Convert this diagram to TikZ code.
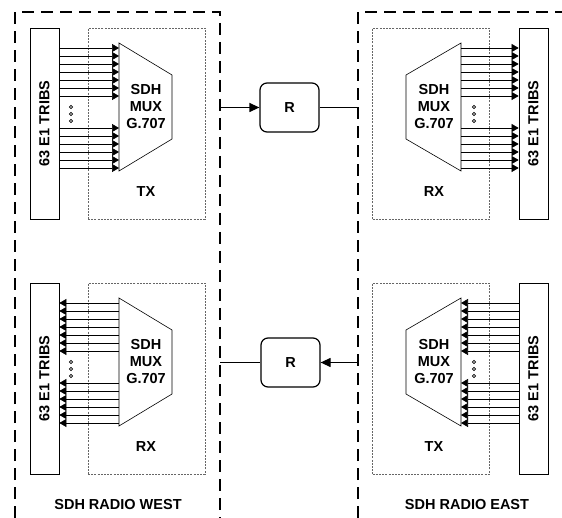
\documentclass[tikz,border=0pt]{standalone}
\usepackage{fontspec}
\setmainfont{Liberation Sans}
\usetikzlibrary{arrows.meta,positioning}

\begin{document}
\begin{tikzpicture}[x=1pt, y=-1pt, >=Stealth,
   font=\bfseries\fontsize{14.5}{17}\selectfont,
   site/.style={line width=1.5pt, dash pattern=on 12pt off 7pt},
   tribs/.style={draw, line width=0.7pt, minimum width=29pt, minimum height=191pt, inner sep=0pt},
   unit/.style={draw=black!60, line width=0.7pt, dash pattern=on 2pt off 1.2pt,
                minimum width=117pt, minimum height=191pt, inner sep=0pt},
   radio/.style={draw, rounded corners=7pt, line width=1.2pt, minimum width=59pt, minimum height=49pt},
   link/.style={line width=1.2pt},
   linkhead/.style={link, -{Triangle[length=10pt,width=9pt]}},
   fanr/.style={line width=0.6pt, -{Triangle[length=7pt,width=8pt]}},
   fanl/.style={line width=0.6pt, {Triangle[length=7pt,width=8pt]}-},
   dot/.style={draw, circle, inner sep=0pt, minimum size=3.2pt, line width=0.6pt}]
  \useasboundingbox (0,0) rectangle (562,518);

  % radio sites
  \draw[site] (15,518) -- (15,12) -- (220,12) -- (220,518);
  \draw[site] (358,518) -- (358,12) -- (562,12);

  % west and east units, TX/RX row and RX/TX row
  \foreach \off/\wl/\el/\fs in {0/TX/RX/fanr, 255/RX/TX/fanl} {
    \begin{scope}[shift={(0,\off)}]
      % west
      \node[unit]  (uw\off) at (146.5,123.5) {};
      \node[tribs] (tw\off) at (44.5,123.5) {};
      \node[rotate=90] (twl\off) at (tw\off) {63 E1 TRIBS};
      \draw[line width=0.6pt] (119,43) coordinate (mw\off) -- (172,75) -- (172,139) -- (119,171) -- cycle;
      \node[align=center] (mwl\off) at (146,107) {SDH\\MUX\\G.707};
      \node (uwl\off) at (146,192) {\wl};
      \foreach \y in {48,56,...,96} \draw[\fs] (tw\off.east |- 0,\y) -- (mw\off |- 0,\y);
      \foreach \y in {128,136,...,168} \draw[\fs] (tw\off.east |- 0,\y) -- (mw\off |- 0,\y);
      \foreach \y in {107,114,121} \node[dot] at (71,\y) {};
      % east
      \node[unit]  (ue\off) at (431,123.5) {};
      \node[tribs] (te\off) at (533.5,123.5) {};
      \node[rotate=90] (tel\off) at (te\off) {63 E1 TRIBS};
      \draw[line width=0.6pt] (461,43) coordinate (me\off) -- (406,75) -- (406,139) -- (461,171) -- cycle;
      \node[align=center] (mel\off) at (434,107) {SDH\\MUX\\G.707};
      \node (uel\off) at (434,192) {\el};
      \foreach \y in {48,56,...,96} \draw[\fs] (me\off |- 0,\y) -- (te\off.west |- 0,\y);
      \foreach \y in {128,136,...,168} \draw[\fs] (me\off |- 0,\y) -- (te\off.west |- 0,\y);
      \foreach \y in {107,114,121} \node[dot] at (474,\y) {};
    \end{scope}
  }

  % radio links
  \node[radio] (r1) at (289.5,107.5) {R};
  \node[radio] (r2) at (290.5,362.5) {R};
  \coordinate (w1) at (220,107.5);
  \coordinate (e1) at (358,107.5);
  \coordinate (w2) at (220,362.5);
  \coordinate (e2) at (358,362.5);
  \draw[linkhead] (w1) -- (r1);
  \draw[link] (r1) -- (e1);
  \draw[link] (w2) -- (r2);
  \draw[linkhead] (e2) -- (r2);

  \node (west) at (118,505) {SDH RADIO WEST};
  \node (east) at (467,505) {SDH RADIO EAST};
\end{tikzpicture}
\end{document}
